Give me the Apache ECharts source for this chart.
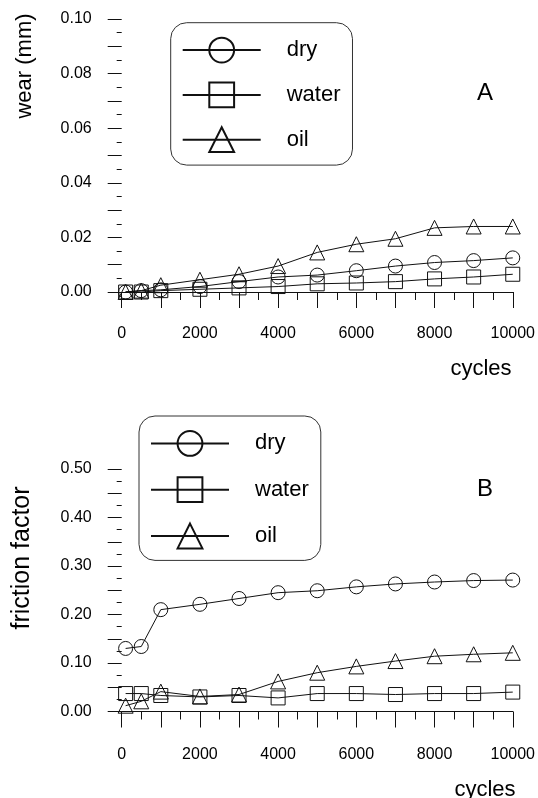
<!DOCTYPE html>
<html>
<head>
<meta charset="utf-8">
<script src="https://cdn.jsdelivr.net/npm/echarts@6/dist/echarts.min.js"></script>
<style>
html,body{margin:0;padding:0;background:#fff;}
#c{width:538px;height:798px;}
</style>
</head>
<body>
<div id="c"></div>
<script>
// ---- data ----
var cycles = [100, 500, 1000, 2000, 3000, 4000, 5000, 6000, 7000, 8000, 9000, 10000];
var wearDry   = [0, 0.0005, 0.0008, 0.002, 0.0038, 0.0055, 0.0062, 0.0078, 0.0095, 0.0108, 0.0115, 0.0125];
var wearWater = [0, 0, 0.0005, 0.001, 0.0015, 0.002, 0.003, 0.0033, 0.0038, 0.0048, 0.0055, 0.0065];
var wearOil   = [0, 0.0005, 0.0025, 0.0045, 0.0065, 0.0095, 0.0145, 0.0175, 0.0195, 0.0235, 0.024, 0.024];
var fricDry   = [0.13, 0.134, 0.21, 0.221, 0.233, 0.245, 0.249, 0.257, 0.263, 0.267, 0.27, 0.271];
var fricWater = [0.037, 0.037, 0.033, 0.030, 0.033, 0.028, 0.037, 0.037, 0.035, 0.037, 0.037, 0.040];
var fricOil   = [0.012, 0.021, 0.041, 0.031, 0.035, 0.062, 0.08, 0.093, 0.104, 0.114, 0.118, 0.121];
var seriesNames = ['dry', 'water', 'oil'];
var xTicks = [0, 2000, 4000, 6000, 8000, 10000];
var wearTicks = [0.00, 0.02, 0.04, 0.06, 0.08, 0.10];
var fricTicks = [0.00, 0.10, 0.20, 0.30, 0.40, 0.50];

var FONT = 'Liberation Sans, Arial, sans-serif';
var symbols = {dry: 'circle', water: 'rect', oil: 'triangle'};

function pairs(ys){ return cycles.map(function(c,i){ return [c, ys[i]]; }); }

function mkSeries(name, ys, gi){
  return {
    type: 'line', name: name, xAxisIndex: gi, yAxisIndex: gi,
    data: pairs(ys),
    symbol: symbols[name], symbolSize: name === 'oil' ? 15 : 14,
    lineStyle: {color: '#111', width: 1},
    itemStyle: {color: 'rgba(255,255,255,0)', borderColor: '#111', borderWidth: 1},
    emphasis: {disabled: true},
    animation: false, z: 3
  };
}

function xAxis(gi, margin){
  return {
    type: 'value', gridIndex: gi, min: 0, max: 10000, interval: 1000,
    axisLine: {show: true, onZero: true, lineStyle: {color: '#111', width: 1}},
    axisTick: {show: true, length: 16, lineStyle: {color: '#111'}},
    minorTick: {show: true, splitNumber: 2, length: 8, lineStyle: {color: '#111'}},
    splitLine: {show: false},
    axisLabel: {
      margin: margin, color: '#000', fontFamily: FONT, fontSize: 16,
      formatter: function(v){ return xTicks.indexOf(v) >= 0 ? String(v) : ''; }
    }
  };
}

function yAxis(gi, max, interval, labelTicks, minorLen){
  return {
    type: 'value', gridIndex: gi, min: 0, max: max, interval: interval,
    axisLine: {show: false},
    axisTick: {show: true, length: 14, lineStyle: {color: '#111'}},
    minorTick: {show: true, splitNumber: 2, length: minorLen, lineStyle: {color: '#111'}},
    splitLine: {show: false},
    axisLabel: {
      margin: 30, color: '#000', fontFamily: FONT, fontSize: 16,
      formatter: function(v){
        for (var i = 0; i < labelTicks.length; i++) {
          if (Math.abs(labelTicks[i] - v) < 1e-9) return labelTicks[i].toFixed(2);
        }
        return '';
      }
    }
  };
}

function legend(left, top, gap, padding){
  return {
    show: true, orient: 'vertical', left: left, top: top,
    data: seriesNames,
    itemWidth: 78, itemHeight: 31, itemGap: gap,
    padding: padding,
    backgroundColor: '#fff', borderColor: '#333', borderWidth: 1, borderRadius: 16,
    selectedMode: false,
    textStyle: {color: '#000', fontFamily: FONT, fontSize: 22, padding: [0, 0, 0, 21]}
  };
}

var chart = echarts.init(document.getElementById('c'), null, {renderer: 'canvas'});
chart.setOption({
  backgroundColor: '#fff',
  animation: false,
  grid: [
    {left: 121.7, top: 19, width: 392.3, height: 273},
    {left: 121.7, top: 469, width: 392.3, height: 242.5}
  ],
  xAxis: [xAxis(0, 34), xAxis(1, 35)],
  yAxis: [yAxis(0, 0.1, 0.01, wearTicks, 5), yAxis(1, 0.5, 0.05, fricTicks, 5)],
  legend: [legend(170.7, 22.7, 18, [14, 12, 12, 11]), legend(139, 416, 19.5, [14, 12, 11, 11])],
  series: [
    mkSeries('dry', wearDry, 0), mkSeries('water', wearWater, 0), mkSeries('oil', wearOil, 0),
    mkSeries('dry', fricDry, 1), mkSeries('water', fricWater, 1), mkSeries('oil', fricOil, 1)
  ],
  graphic: [
    {type: 'text', x: 25, y: 66, rotation: Math.PI/2, style: {text: 'wear (mm)', font: '22px ' + FONT, fill: '#000', textAlign: 'center', textVerticalAlign: 'middle'}},
    {type: 'text', x: 22, y: 558, rotation: Math.PI/2, style: {text: 'friction factor', font: '25px ' + FONT, fill: '#000', textAlign: 'center', textVerticalAlign: 'middle'}},
    {type: 'text', x: 481, y: 369, style: {text: 'cycles', font: '22px ' + FONT, fill: '#000', textAlign: 'center', textVerticalAlign: 'middle'}},
    {type: 'text', x: 485, y: 790, style: {text: 'cycles', font: '22px ' + FONT, fill: '#000', textAlign: 'center', textVerticalAlign: 'middle'}},
    {type: 'text', x: 485, y: 93, style: {text: 'A', font: '24px ' + FONT, fill: '#000', textAlign: 'center', textVerticalAlign: 'middle'}},
    {type: 'text', x: 485, y: 489, style: {text: 'B', font: '24px ' + FONT, fill: '#000', textAlign: 'center', textVerticalAlign: 'middle'}}
  ]
});
</script>
</body>
</html>
